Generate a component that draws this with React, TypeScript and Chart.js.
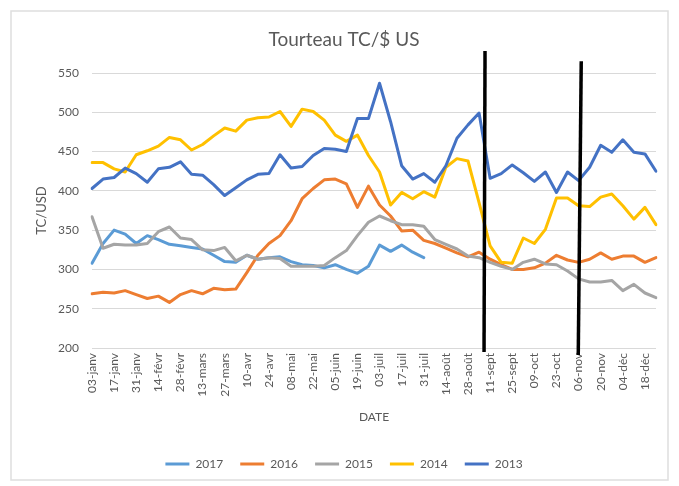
import React, { useEffect, useRef } from "react";
import { Chart, registerables } from "chart.js";

Chart.register(...registerables);

const categories = [
  "03-janv", "10-janv", "17-janv", "24-janv", "31-janv",
  "07-févr", "14-févr", "21-févr", "28-févr",
  "06-mars", "13-mars", "20-mars", "27-mars",
  "03-avr", "10-avr", "17-avr", "24-avr",
  "01-mai", "08-mai", "15-mai", "22-mai", "29-mai",
  "05-juin", "12-juin", "19-juin", "26-juin",
  "03-juil", "10-juil", "17-juil", "24-juil", "31-juil",
  "07-août", "14-août", "21-août", "28-août",
  "04-sept", "11-sept", "18-sept", "25-sept",
  "02-oct", "09-oct", "16-oct", "23-oct", "30-oct",
  "06-nov", "13-nov", "20-nov", "27-nov",
  "04-déc", "11-déc", "18-déc", "25-déc",
];

const series2017 = [
  308, 333, 350, 345, 333, 343, 338, 332, 330, 328, 326, 318, 310, 309, 318, 313,
  315, 316, 310, 306, 305, 302, 306, 300, 295, 304, 331, 323, 331, 322, 315,
];

const series2016 = [
  269, 271, 270, 273, 268, 263, 266, 258, 268, 273, 269, 276, 274, 275, 296, 318,
  333, 343, 362, 390, 403, 414, 415, 409, 379, 406, 382, 368, 349, 350, 337, 333,
  327, 321, 316, 322, 313, 306, 300, 300, 302, 308, 318, 312, 309, 313, 321, 313,
  317, 317, 309, 315,
];

const series2015 = [
  367, 327, 332, 331, 331, 333, 348, 354, 340, 338, 325, 324, 328, 311, 318, 313,
  315, 314, 304, 304, 304, 305, 315, 324, 343, 360, 368, 362, 357, 357, 355, 338,
  332, 326, 317, 315, 309, 304, 300, 309, 313, 307, 306, 298, 288, 284, 284, 286,
  273, 281, 270, 264,
];

const series2014 = [
  436, 436, 428, 424, 446, 451, 457, 468, 465, 452, 459, 470, 480, 476, 490, 493,
  494, 501, 482, 504, 501, 490, 471, 463, 471, 445, 424, 382, 398, 390, 399, 392,
  430, 441, 438, 385, 330, 309, 308, 340, 333, 351, 391, 391, 381, 380, 392, 396,
  381, 364, 379, 357,
];

const series2013 = [
  403, 415, 417, 429, 422, 411, 428, 430, 437, 421, 420, 408, 394, 404, 414, 421,
  422, 446, 429, 431, 445, 454, 453, 450, 492, 492, 537, 488, 432, 415, 422, 411,
  432, 467, 484, 499, 416, 422, 433, 423, 412, 424, 398, 424, 413, 430, 458, 449,
  465, 449, 447, 425,
];

const seriesNames = ["2017", "2016", "2015", "2014", "2013"];
const seriesColors = ["#5B9BD5", "#ED7D31", "#A5A5A5", "#FFC000", "#4472C4"];
const yTicks = [200, 250, 300, 350, 400, 450, 500, 550];

// hand-drawn vertical marker lines (category index / value at both ends)
const markerTopIndex = [35.54, 44.24];
const markerBottomIndex = [35.45, 43.97];
const markerTopValue = [578, 565];
const markerBottomValue = [195, 191];

const FONT = "Lato, 'Open Sans', sans-serif";
const TEXT = "#595959";

const overlayPlugin = {
  id: "overlay",
  beforeDraw(chart: any) {
    const ctx = chart.ctx;
    ctx.save();
    ctx.fillStyle = "#ffffff";
    ctx.fillRect(0, 0, chart.width, chart.height);
    ctx.strokeStyle = "#dedede";
    ctx.lineWidth = 1.5;
    ctx.strokeRect(11, 11, 657, 469);
    ctx.restore();
  },
  afterDatasetsDraw(chart: any) {
    const ctx = chart.ctx;
    const xs = chart.scales.x;
    const ys = chart.scales.y;
    ctx.save();
    ctx.strokeStyle = "#000000";
    ctx.lineWidth = 3.5;
    ctx.lineCap = "butt";
    for (let i = 0; i < markerTopIndex.length; i++) {
      ctx.beginPath();
      ctx.moveTo(xs.getPixelForValue(markerTopIndex[i]), ys.getPixelForValue(markerTopValue[i]));
      ctx.lineTo(xs.getPixelForValue(markerBottomIndex[i]), ys.getPixelForValue(markerBottomValue[i]));
      ctx.stroke();
    }
    ctx.restore();
  },
};

export default function App() {
  const canvasRef = useRef<HTMLCanvasElement | null>(null);

  useEffect(() => {
    document.body.style.margin = "0";
    const canvas = canvasRef.current;
    if (!canvas) return;
    const allSeries = [series2017, series2016, series2015, series2014, series2013];
    const chart = new Chart(canvas, {
      type: "line",
      data: {
        labels: categories,
        datasets: allSeries.map((d, i) => ({
          label: seriesNames[i],
          data: d,
          borderColor: seriesColors[i],
          backgroundColor: seriesColors[i],
          borderWidth: 3,
          pointRadius: 0,
          pointHoverRadius: 0,
          tension: 0,
          fill: false,
          borderJoinStyle: "round" as const,
          borderCapStyle: "round" as const,
          order: seriesNames.length - i,
        })),
      },
      options: {
        responsive: false,
        animation: false,
        maintainAspectRatio: false,
        layout: { padding: { left: 32, right: 23, top: 10, bottom: 6 } },
        plugins: {
          title: {
            display: true,
            text: "Tourteau TC/$ US",
            color: TEXT,
            font: { family: FONT, size: 19, weight: "normal" },
            padding: { top: 18.6, bottom: 21.6 },
          },
          legend: {
            position: "bottom",
            labels: {
              usePointStyle: true,
              pointStyle: "line",
              pointStyleWidth: 24,
              padding: 17,
              color: TEXT,
              font: { family: FONT, size: 12 },
              sort: (a: any, b: any) => a.datasetIndex - b.datasetIndex,
            },
          },
          tooltip: { enabled: false },
        },
        scales: {
          x: {
            type: "category",
            offset: false,
            grid: { display: false, drawTicks: false },
            border: { display: false },
            ticks: {
              autoSkip: false,
              maxRotation: 90,
              minRotation: 90,
              padding: 5,
              color: TEXT,
              font: { family: FONT, size: 12 },
              callback: (_v: any, idx: number) => (idx % 2 === 0 ? categories[idx] : null),
            },
            title: {
              display: true,
              text: "DATE",
              color: TEXT,
              font: { family: FONT, size: 12 },
              padding: { top: 4, bottom: 17 },
            },
            afterFit: (s: any) => {
              s.height = 93;
            },
          },
          y: {
            min: 200,
            max: 550,
            afterBuildTicks: (s: any) => {
              s.ticks = yTicks.map((v) => ({ value: v }));
            },
            grid: { color: "#d9d9d9", lineWidth: 1, drawTicks: false },
            border: { display: false },
            ticks: {
              padding: 13,
              color: TEXT,
              font: { family: FONT, size: 12 },
            },
            title: {
              display: true,
              text: "TC/USD",
              color: TEXT,
              font: { family: FONT, size: 13 },
              padding: { top: 2, bottom: 0 },
            },
            afterFit: (s: any) => {
              s.width = 60;
            },
          },
        },
      },
      plugins: [overlayPlugin],
    });
    return () => chart.destroy();
  }, []);

  return (
    <div style={{ width: 679, height: 486 }}>
      <canvas ref={canvasRef} width={679} height={486} style={{ display: "block" }} />
    </div>
  );
}
